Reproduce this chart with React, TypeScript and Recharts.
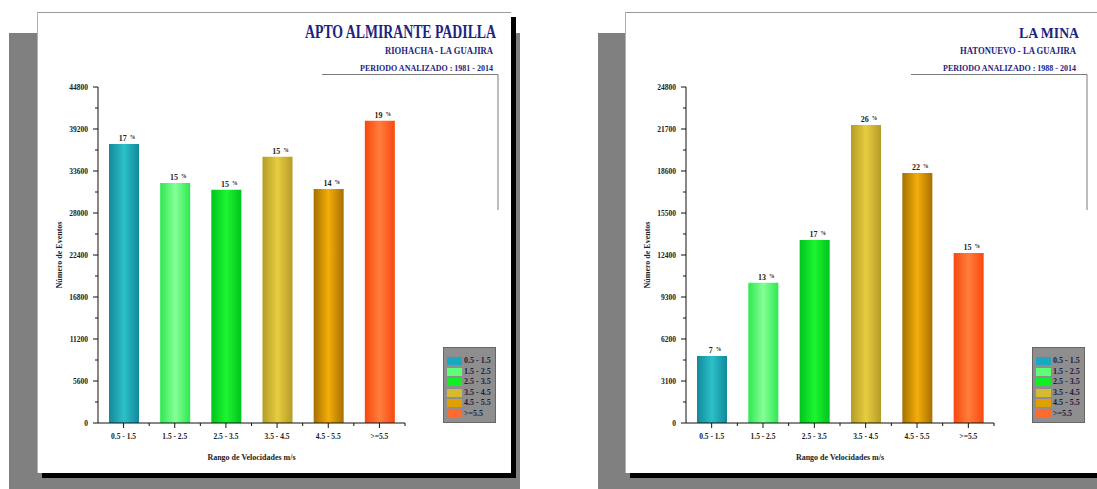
import React from 'react';
import { BarChart, Bar, XAxis, YAxis, Cell, LabelList, Label } from 'recharts';

const rangos = ['0.5 - 1.5', '1.5 - 2.5', '2.5 - 3.5', '3.5 - 4.5', '4.5 - 5.5', '>=5.5'];

// Apto Almirante Padilla - Riohacha (1981 - 2014)
const eventosPadilla = [37200, 32000, 31100, 35500, 31200, 40300];
const porcentajePadilla = [17, 15, 15, 15, 14, 19];
const ticksPadilla = [0, 5600, 11200, 16800, 22400, 28000, 33600, 39200, 44800];

// La Mina - Hatonuevo (1988 - 2014)
const eventosMina = [4950, 10350, 13500, 22000, 18450, 12550];
const porcentajeMina = [7, 13, 17, 26, 22, 15];
const ticksMina = [0, 3100, 6200, 9300, 12400, 15500, 18600, 21700, 24800];

// degradado horizontal de cada barra: borde oscuro, centro claro
const coloresBorde = ['#12899a', '#2ee850', '#00c41c', '#b59c26', '#a47000', '#f8480f'];
const coloresCentro = ['#2cc0c8', '#86ff98', '#1ef531', '#e6cd40', '#f5ad0a', '#ff7d3c'];
const coloresLeyenda = ['#1aa8c0', '#5dff76', '#10ee24', '#d6ba32', '#e2a000', '#ff6a30'];

const FUENTE = '"Liberation Serif", "DejaVu Serif", serif';
const AZUL = '#1c2380';
const ALTO = 489;
const ANCHO_EJE_Y = 40;

// marcas menores a mitad de camino entre las mayores
const conMenores = (t: number[]) =>
  t.flatMap((v, i) => (i === 0 ? [v] : [(t[i - 1] + v) / 2, v]));

type Margen = { top: number; right: number; bottom: number; left: number };

function Grafico({
  eventos,
  porcentaje,
  ticks,
  ancho,
  margen,
  gid,
}: {
  eventos: number[];
  porcentaje: number[];
  ticks: number[];
  ancho: number;
  margen: Margen;
  gid: string;
}) {
  const datos = rangos.map((rango, i) => ({ rango, eventos: eventos[i], pct: porcentaje[i] }));
  const anchoPlot = ancho - margen.left - margen.right - ANCHO_EJE_Y;
  const banda = anchoPlot / rangos.length;

  const tickX = (p: any) => {
    const ejeY = p.y - 11;
    return (
      <g>
        <line x1={p.x + banda / 2} x2={p.x + banda / 2} y1={ejeY} y2={ejeY + 3} stroke="#111" />
        <text
          x={p.x}
          y={p.y}
          dy="0.71em"
          textAnchor="middle"
          fontSize={7.5}
          fontWeight="bold"
          fontFamily={FUENTE}
          fill="#222"
        >
          {p.payload.value}
        </text>
      </g>
    );
  };

  const tickY = (p: any) => {
    const mayor = ticks.includes(p.payload.value);
    const ejeX = p.x + 10;
    return (
      <g>
        <line x1={ejeX - (mayor ? 5 : 3)} x2={ejeX} y1={p.y} y2={p.y} stroke="#111" />
        {mayor && (
          <text
            x={p.x}
            y={p.y}
            dy="0.35em"
            textAnchor="end"
            fontSize={7.5}
            fontWeight="bold"
            fontFamily={FUENTE}
            fill="#222"
          >
            {p.payload.value}
          </text>
        )}
      </g>
    );
  };

  const etiquetaPct = (p: any) => (
    <text
      x={p.x + p.width / 2 + 3}
      y={p.y - 3}
      textAnchor="middle"
      fontSize={8}
      fontWeight="bold"
      fontFamily={FUENTE}
      fill="#222"
    >
      {p.value}
      <tspan dx={3} dy={-2} fontSize={5.5}>
        %
      </tspan>
    </text>
  );

  return (
    <BarChart width={ancho} height={ALTO} data={datos} margin={margen} barSize={30}>
      <defs>
        {rangos.map((_, i) => (
          <linearGradient key={i} id={`${gid}-${i}`} x1="0" y1="0" x2="1" y2="0">
            <stop offset="0%" stopColor={coloresBorde[i]} />
            <stop offset="50%" stopColor={coloresCentro[i]} />
            <stop offset="100%" stopColor={coloresBorde[i]} />
          </linearGradient>
        ))}
      </defs>
      <XAxis
        dataKey="rango"
        height={30}
        interval={0}
        tickSize={5}
        tickMargin={6}
        stroke="#111"
        tick={tickX}
      >
        <Label
          content={(p: any) => (
            <text
              x={p.viewBox.x + p.viewBox.width / 2}
              y={p.viewBox.y + 34}
              dy="0.35em"
              textAnchor="middle"
              fontSize={8}
              fontWeight="bold"
              fontFamily={FUENTE}
              fill="#222"
            >
              Rango de Velocidades m/s
            </text>
          )}
        />
      </XAxis>
      <YAxis
        width={ANCHO_EJE_Y}
        domain={[0, ticks[ticks.length - 1]]}
        ticks={conMenores(ticks)}
        interval={0}
        tickLine={false}
        tickSize={5}
        tickMargin={5}
        stroke="#111"
        tick={tickY}
      >
        <Label
          content={(p: any) => {
            const x = p.viewBox.x + 1;
            const y = p.viewBox.y + p.viewBox.height / 2;
            return (
              <text
                x={x}
                y={y}
                transform={`rotate(-90 ${x} ${y})`}
                dy="0.35em"
                textAnchor="middle"
                fontSize={8}
                fontWeight="bold"
                fontFamily={FUENTE}
                fill="#222"
              >
                Número de Eventos
              </text>
            );
          }}
        />
      </YAxis>
      <Bar dataKey="eventos" isAnimationActive={false}>
        {datos.map((_, i) => (
          <Cell key={i} fill={`url(#${gid}-${i})`} />
        ))}
        <LabelList dataKey="pct" content={etiquetaPct} />
      </Bar>
    </BarChart>
  );
}

function Leyenda({ left }: { left: number }) {
  return (
    <div
      style={{
        position: 'absolute',
        left,
        top: 347,
        width: 53,
        height: 76,
        boxSizing: 'border-box',
        background: '#8e8e8e',
        border: '1px solid #666',
        paddingTop: 8,
      }}
    >
      {rangos.map((r, i) => (
        <div key={r} style={{ display: 'flex', alignItems: 'center', height: 10.5 }}>
          <div
            style={{
              marginLeft: 3,
              width: 15,
              height: 8,
              flexShrink: 0,
              background: coloresLeyenda[i],
            }}
          />
          <span
            style={{
              marginLeft: 2,
              fontFamily: FUENTE,
              fontWeight: 'bold',
              fontSize: 8,
              lineHeight: '10px',
              color: '#1b1b40',
              whiteSpace: 'nowrap',
            }}
          >
            {r}
          </span>
        </div>
      ))}
    </div>
  );
}

function Encabezado({
  titulo,
  lugar,
  periodo,
  derecha,
  tamTitulo,
  anchoTitulo,
  anchoLugar,
  lineaDesde,
  lineaX,
}: {
  titulo: string;
  lugar: string;
  periodo: string;
  derecha: number;
  tamTitulo: number;
  anchoTitulo: number;
  anchoLugar: number;
  lineaDesde: number;
  lineaX: number;
}) {
  return (
    <svg
      width={1097}
      height={ALTO}
      style={{ position: 'absolute', left: 0, top: 0, pointerEvents: 'none' }}
    >
      <text
        x={derecha}
        y={38}
        textAnchor="end"
        fontFamily={FUENTE}
        fontWeight="bold"
        fontSize={tamTitulo}
        fill={AZUL}
        textLength={anchoTitulo}
        lengthAdjust="spacingAndGlyphs"
      >
        {titulo}
      </text>
      <text
        x={derecha - 3}
        y={54}
        textAnchor="end"
        fontFamily={FUENTE}
        fontWeight="bold"
        fontSize={10}
        fill={AZUL}
        textLength={anchoLugar}
        lengthAdjust="spacingAndGlyphs"
      >
        {lugar}
      </text>
      <text
        x={derecha - 3}
        y={71}
        textAnchor="end"
        fontFamily={FUENTE}
        fontWeight="bold"
        fontSize={8}
        fill={AZUL}
        textLength={133}
        lengthAdjust="spacingAndGlyphs"
      >
        {periodo}
      </text>
      <polyline
        points={`${lineaDesde},74.5 ${lineaX},74.5 ${lineaX},210`}
        fill="none"
        stroke="#7a7a7a"
        strokeWidth={1}
      />
    </svg>
  );
}

const tarjeta: React.CSSProperties = {
  position: 'absolute',
  top: 12,
  height: 461,
  boxSizing: 'border-box',
  background: '#fff',
  borderTop: '1px solid #9a9a9a',
  borderLeft: '1px solid #b0b0b0',
  boxShadow: '5px 5px 0 #000',
};

export default function App() {
  return (
    <div
      style={{
        position: 'absolute',
        left: 0,
        top: 0,
        width: 1097,
        height: ALTO,
        overflow: 'hidden',
        background: '#fff',
      }}
    >
      {/* fondo gris y tarjetas */}
      <div style={{ position: 'absolute', left: 9, top: 33, width: 511, height: 456, background: '#808080' }} />
      <div style={{ position: 'absolute', left: 598, top: 33, width: 499, height: 456, background: '#808080' }} />
      <div style={{ ...tarjeta, left: 37, width: 474 }} />
      <div style={{ ...tarjeta, left: 625, width: 490 }} />

      <div style={{ position: 'absolute', left: 0, top: 0 }}>
        <Grafico
          eventos={eventosPadilla}
          porcentaje={porcentajePadilla}
          ticks={ticksPadilla}
          ancho={540}
          margen={{ top: 87, right: 135, bottom: 36, left: 58 }}
          gid="padilla"
        />
      </div>
      <div style={{ position: 'absolute', left: 560, top: 0 }}>
        <Grafico
          eventos={eventosMina}
          porcentaje={porcentajeMina}
          ticks={ticksMina}
          ancho={537}
          margen={{ top: 87, right: 103, bottom: 36, left: 86 }}
          gid="mina"
        />
      </div>

      <Encabezado
        titulo="APTO ALMIRANTE PADILLA"
        lugar="RIOHACHA - LA GUAJIRA"
        periodo="PERIODO ANALIZADO : 1981 - 2014"
        derecha={496}
        tamTitulo={18}
        anchoTitulo={191}
        anchoLugar={108}
        lineaDesde={322}
        lineaX={498}
      />
      <Encabezado
        titulo="LA MINA"
        lugar="HATONUEVO - LA GUAJIRA"
        periodo="PERIODO ANALIZADO : 1988 - 2014"
        derecha={1079}
        tamTitulo={15}
        anchoTitulo={60}
        anchoLugar={116}
        lineaDesde={911}
        lineaX={1087}
      />

      <Leyenda left={443} />
      <Leyenda left={1032} />
    </div>
  );
}
